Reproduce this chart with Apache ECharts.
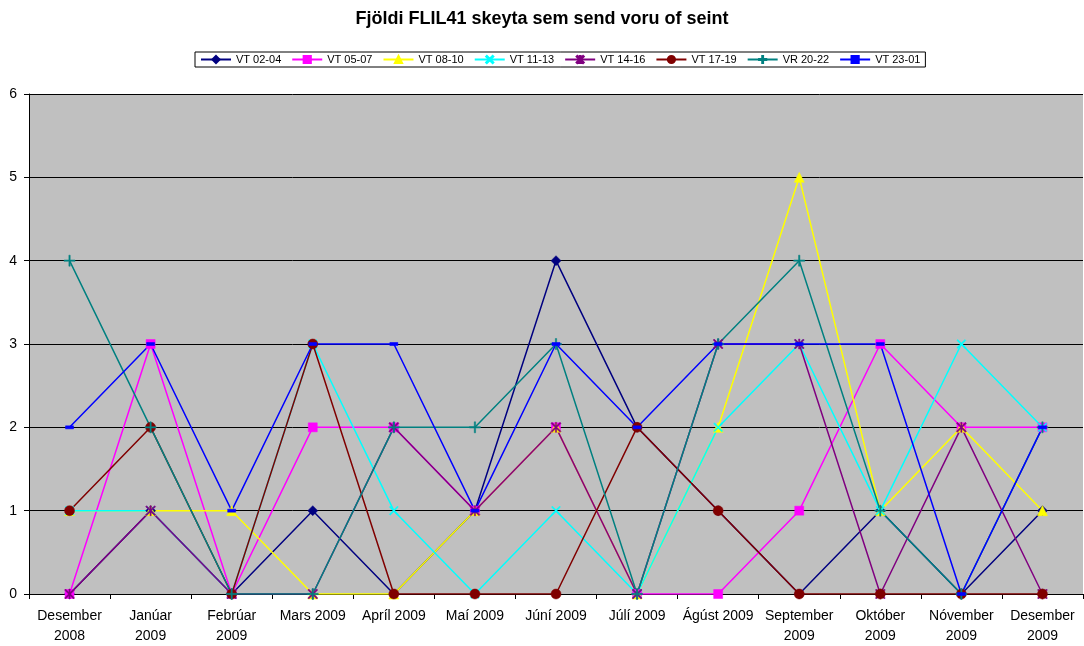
<!DOCTYPE html>
<html>
<head>
<meta charset="utf-8">
<script src="https://cdn.jsdelivr.net/npm/echarts@6/dist/echarts.min.js"></script>
<style>
html,body{margin:0;padding:0;background:#fff;}
#chart{width:1084px;height:646px;}
</style>
</head>
<body>
<div id="chart"></div>
<script>
var categories = ["Desember\n2008","Janúar\n2009","Febrúar\n2009","Mars 2009","Apríl 2009","Maí 2009","Júní 2009","Júlí 2009","Ágúst 2009","September\n2009","Október\n2009","Nóvember\n2009","Desember\n2009"];
var seriesNames = ["VT 02-04","VT 05-07","VT 08-10","VT 11-13","VT 14-16","VT 17-19","VR 20-22","VT 23-01"];
var vt0204 = [0,1,0,1,0,1,4,2,1,0,1,0,1];
var vt0507 = [0,3,0,2,2,1,2,0,0,1,3,2,2];
var vt0810 = [1,1,1,0,0,1,2,0,2,5,1,2,1];
var vt1113 = [1,1,0,3,1,0,1,0,2,3,1,3,2];
var vt1416 = [0,1,0,0,2,1,2,0,3,3,0,2,0];
var vt1719 = [1,2,0,3,0,0,0,2,1,0,0,0,0];
var vr2022 = [4,2,0,0,2,2,3,0,3,4,1,0,2];
var vt2301 = [2,3,1,3,3,1,3,2,3,3,3,0,2];
var yTicks = [0,1,2,3,4,5,6];

var seriesData = [vt0204,vt0507,vt0810,vt1113,vt1416,vt1719,vr2022,vt2301];
var colors = ["#000080","#FF00FF","#FFFF00","#00FFFF","#800080","#800000","#008080","#0000FF"];
var xPath = 'path://M0,1L1,0L5,4L9,0L10,1L6,5L10,9L9,10L5,6L1,10L0,9L4,5Z';
var starPath = 'path://M0,1L1,0L5,4L9,0L10,1L6,5L10,9L9,10L5,6L1,10L0,9L4,5Z M4.4,0L5.6,0L5.6,10L4.4,10Z';
var plusPath = 'path://M4.4,0L5.6,0L5.6,4.4L10,4.4L10,5.6L5.6,5.6L5.6,10L4.4,10L4.4,5.6L0,5.6L0,4.4L4.4,4.4Z';
var dashPath = 'path://M0,0L8,0L8,3L0,3Z';
var symbols = ['diamond','rect','triangle',xPath,starPath,'circle',plusPath,dashPath];
var sizes = [10,9,10,9,10,10,11,[8,3]];

var chart = echarts.init(document.getElementById('chart'), null, {renderer:'canvas'});
var series = seriesNames.map(function(n,i){
  return {
    name:n, type:'line', data:seriesData[i],
    symbol:symbols[i], symbolSize:sizes[i], showAllSymbol:true,
    lineStyle:{color:colors[i], width:1.5},
    itemStyle:{color:colors[i], borderColor:colors[i], borderWidth:0.5},
    emphasis:{disabled:true}
  };
});
chart.setOption({
  animation:false,
  backgroundColor:'#ffffff',
  color:colors,
  title:{
    text:'Fjöldi FLIL41 skeyta sem send voru of seint',
    left:'center', top:5,
    textStyle:{fontFamily:'Liberation Sans, Arial', fontWeight:'bold', fontSize:18, color:'#000'}
  },
  legend:{
    top:52, left:195,
    data:seriesNames,
    itemWidth:30, itemHeight:9, itemGap:10,
    borderColor:'#000', borderWidth:1, backgroundColor:'#fff',
    padding:[2,5,2,5],
    textStyle:{fontFamily:'Liberation Sans, Arial', fontSize:11, color:'#000'}
  },
  grid:{left:29, right:1, top:94, bottom:51, backgroundColor:'#C0C0C0', show:true, borderWidth:0},
  xAxis:{
    type:'category', data:categories, boundaryGap:true,
    axisLine:{lineStyle:{color:'#000', width:1}},
    axisTick:{show:true, alignWithLabel:false, length:5, lineStyle:{color:'#000'}},
    axisLabel:{interval:0, fontFamily:'Liberation Sans, Arial', fontSize:14, color:'#000', margin:12, lineHeight:20}
  },
  yAxis:{
    type:'value', min:0, max:6, interval:1,
    axisLine:{show:true, lineStyle:{color:'#000', width:1}},
    axisTick:{show:true, length:5, lineStyle:{color:'#000'}},
    splitLine:{show:true, lineStyle:{color:'#000', width:1}},
    axisLabel:{fontFamily:'Liberation Sans, Arial', fontSize:14, color:'#000', margin:12,
      formatter:function(v){ return yTicks.indexOf(v)>=0 ? String(v) : ''; }}
  },
  series:series
});
</script>
</body>
</html>
